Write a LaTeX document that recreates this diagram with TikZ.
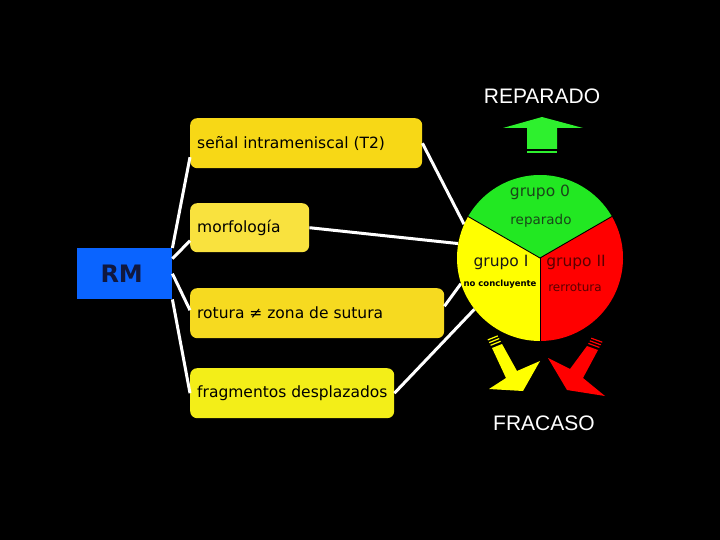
\documentclass[tikz,border=0pt]{standalone}
\usepackage{fontspec}
\setmainfont{DejaVu Sans}
\newfontfamily\arial{Liberation Sans}
\definecolor{senalc}{RGB}{247,216,22}
\definecolor{morfc}{RGB}{249,226,62}
\definecolor{rotc}{RGB}{246,218,32}
\definecolor{fragc}{RGB}{243,238,24}
\definecolor{rmblue}{RGB}{10,100,255}
\definecolor{rmtext}{RGB}{16,24,64}
\definecolor{piegreen}{RGB}{34,232,34}
\definecolor{pieyellow}{RGB}{255,255,0}
\definecolor{piered}{RGB}{255,0,0}
\definecolor{g0text}{RGB}{25,70,25}
\definecolor{g2text}{RGB}{90,0,0}
\definecolor{arrgreen}{RGB}{46,240,46}
\newcommand{\boxtext}[2]{\makebox[#1][l]{#2}}
\begin{document}
\begin{tikzpicture}[x=1pt,y=-1pt,
  box/.style={rounded corners=7pt, inner xsep=7pt, inner ysep=0pt, minimum height=50pt,
    anchor=north west, font=\fontsize{15.5}{18}\selectfont, text=black},
  link/.style={white, line width=3pt},
  sep/.style={black, line width=0.9pt},
  pietext/.style={inner sep=0pt},
  bigword/.style={white, font=\arial\fontsize{21}{25}\selectfont},
  stripe/.style={line width=1.2pt}]
\fill[black] (0,0) rectangle (720,540);
\useasboundingbox (0,0) rectangle (720,540);

% boxes
\node[box, fill=senalc] (senal) at (190,118) {\boxtext{218pt}{señal intrameniscal (T2)}};
\node[box, fill=morfc, minimum height=49pt] (morf) at (190,203) {\boxtext{105pt}{morfología}};
\node[box, fill=rotc] (rot) at (190,288) {\boxtext{240pt}{rotura ≠ zona de sutura}};
\node[box, fill=fragc] (frag) at (190,368) {\boxtext{190pt}{fragmentos desplazados}};
\node[fill=rmblue, minimum width=95pt, minimum height=51pt, inner sep=0pt, anchor=north west,
  font=\bfseries\fontsize{24}{28}\selectfont, text=rmtext] (rm) at (77,248) {\hspace*{-6pt}RM};

% pie anchor node
\node[circle, minimum size=166pt, inner sep=0pt] (pie) at (540,258) {};

% links
\draw[link] (rm.north east) -- ([yshift=-14pt]senal.west);
\draw[link] ([yshift=15pt]rm.east) -- ([yshift=-13pt]morf.west);
\draw[link] (rm.east) -- ([yshift=3pt]rot.west);
\draw[link] (rm.south east) -- (frag.west);
\draw[link] (senal.east) -- (pie.156);
\draw[link] (morf.east) -- (pie.170);
\draw[link] ([yshift=7pt]rot.east) -- (pie.198);
\draw[link] (frag.east) -- (pie.218);

% pie sectors
\fill[piegreen] (540,258) -- (468.12,216.5) arc (-150:-30:83) -- cycle;
\fill[pieyellow] (540,258) -- (540,341) arc (90:210:83) -- cycle;
\fill[piered] (540,258) -- (611.88,216.5) arc (-30:90:83) -- cycle;
\draw[sep] (468.12,216.5) -- (540,258) -- (611.88,216.5);
\draw[sep] (540,258) -- (540,341);

% pie texts
\node[pietext, font=\fontsize{15.5}{18}\selectfont, text=g0text] (g0) at (540,192) {grupo 0};
\node[pietext, font=\fontsize{13.5}{16}\selectfont, text=g0text] (rep) at (541,221) {reparado};
\node[pietext, font=\fontsize{15.5}{18}\selectfont, text=black!90] (g1) at (501,262) {grupo I};
\node[pietext, font=\fontsize{15.5}{18}\selectfont, text=g2text] (g2) at (576,262) {grupo II};
\node[pietext, font=\bfseries\fontsize{8.5}{10}\selectfont, text=black] (nc) at (500,284) {no concluyente};
\node[pietext, font=\fontsize{12}{14}\selectfont, text=g2text] (rr) at (575,287) {rerrotura};

% titles
\node[bigword] (reparado) at (542,96) {REPARADO};
\node[bigword] (fracaso) at (544,423) {FRACASO};

% green up arrow
\fill[arrgreen] (503,128) -- (542,117) -- (583,128) -- (557,128) -- (557,149) -- (527,149) -- (527,128) -- cycle;
\fill[arrgreen] (527,151) rectangle (557,153.5);

% yellow arrow
\fill[pieyellow] (492,348) -- (502,344) -- (517,371) -- (540,361) -- (523,391) -- (489,389) -- (506,378) -- cycle;
\draw[pieyellow, stripe] (490.6,345.3) -- (500.6,341.3);
\draw[pieyellow, stripe] (489.2,342.6) -- (499.2,338.6);
\draw[pieyellow, stripe] (487.8,339.9) -- (497.8,335.9);

% red arrow
\fill[piered] (598,350) -- (587,346) -- (570,369) -- (548,358) -- (567,390) -- (605,396) -- (583,378) -- cycle;
\draw[piered, stripe] (588.4,343.4) -- (599.4,347.4);
\draw[piered, stripe] (589.8,340.8) -- (600.8,344.8);
\draw[piered, stripe] (591.2,338.2) -- (602.2,342.2);
\end{tikzpicture}
\end{document}
